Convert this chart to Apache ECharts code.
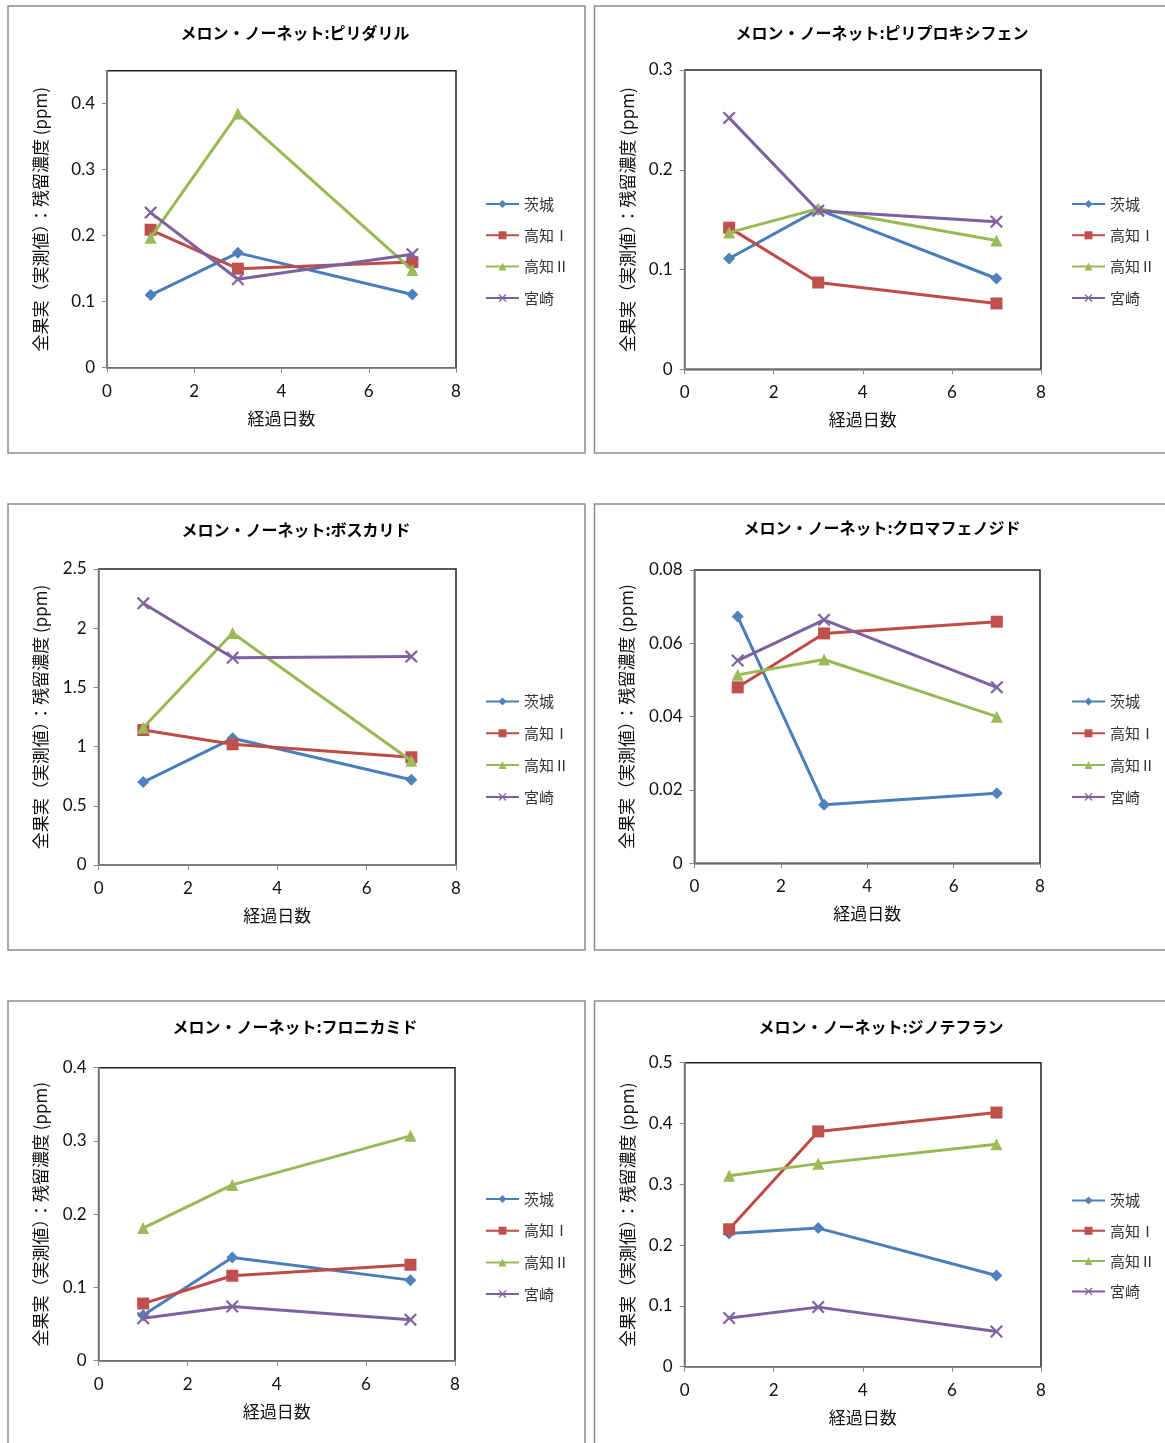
<!DOCTYPE html>
<html>
<head>
<meta charset="utf-8">
<script src="https://cdn.jsdelivr.net/npm/echarts@6/dist/echarts.min.js"></script>
<style>
html,body{margin:0;padding:0;background:#fff;}
#chart{width:1165px;height:1443px;}
</style>
</head>
<body>
<div id="chart"></div>
<script>
// ---- data ----
const days = [1, 3, 7];
const seriesNames = ['茨城', '高知Ⅰ', '高知Ⅱ', '宮崎'];
const panelTitles = [
  'メロン・ノーネット:ピリダリル',
  'メロン・ノーネット:ピリプロキシフェン',
  'メロン・ノーネット:ボスカリド',
  'メロン・ノーネット:クロマフェノジド',
  'メロン・ノーネット:フロニカミド',
  'メロン・ノーネット:ジノテフラン'
];
const xAxisName = '経過日数';
const yAxisName = '全果実（実測値）：残留濃度 (ppm)';
const xTicks = [0, 2, 4, 6, 8];

// ピリダリル
const pyridalylIbaraki = [0.110, 0.174, 0.111];
const pyridalylKochi1 = [0.209, 0.150, 0.160];
const pyridalylKochi2 = [0.197, 0.385, 0.148];
const pyridalylMiyazaki = [0.235, 0.134, 0.172];
const yTicks1 = [0, 0.1, 0.2, 0.3, 0.4];
const yMax1 = 0.45;

// ピリプロキシフェン
const pyriproxyfenIbaraki = [0.111, 0.160, 0.091];
const pyriproxyfenKochi1 = [0.142, 0.087, 0.066];
const pyriproxyfenKochi2 = [0.137, 0.161, 0.129];
const pyriproxyfenMiyazaki = [0.252, 0.159, 0.148];
const yTicks2 = [0, 0.1, 0.2, 0.3];
const yMax2 = 0.3;

// ボスカリド
const boscalidIbaraki = [0.70, 1.07, 0.72];
const boscalidKochi1 = [1.14, 1.02, 0.91];
const boscalidKochi2 = [1.16, 1.96, 0.88];
const boscalidMiyazaki = [2.21, 1.75, 1.76];
const yTicks3 = [0, 0.5, 1, 1.5, 2, 2.5];
const yMax3 = 2.5;

// クロマフェノジド
const chromafenozideIbaraki = [0.0673, 0.0160, 0.0191];
const chromafenozideKochi1 = [0.0480, 0.0627, 0.0659];
const chromafenozideKochi2 = [0.0514, 0.0556, 0.0400];
const chromafenozideMiyazaki = [0.0553, 0.0664, 0.0480];
const yTicks4 = [0, 0.02, 0.04, 0.06, 0.08];
const yMax4 = 0.08;

// フロニカミド
const flonicamidIbaraki = [0.062, 0.141, 0.110];
const flonicamidKochi1 = [0.078, 0.116, 0.131];
const flonicamidKochi2 = [0.181, 0.240, 0.307];
const flonicamidMiyazaki = [0.058, 0.074, 0.056];
const yTicks5 = [0, 0.1, 0.2, 0.3, 0.4];
const yMax5 = 0.4;

// ジノテフラン
const dinotefuranIbaraki = [0.219, 0.228, 0.150];
const dinotefuranKochi1 = [0.226, 0.387, 0.418];
const dinotefuranKochi2 = [0.314, 0.334, 0.366];
const dinotefuranMiyazaki = [0.080, 0.098, 0.058];
const yTicks6 = [0, 0.1, 0.2, 0.3, 0.4, 0.5];
const yMax6 = 0.5;

const panelValues = [
  [pyridalylIbaraki, pyridalylKochi1, pyridalylKochi2, pyridalylMiyazaki],
  [pyriproxyfenIbaraki, pyriproxyfenKochi1, pyriproxyfenKochi2, pyriproxyfenMiyazaki],
  [boscalidIbaraki, boscalidKochi1, boscalidKochi2, boscalidMiyazaki],
  [chromafenozideIbaraki, chromafenozideKochi1, chromafenozideKochi2, chromafenozideMiyazaki],
  [flonicamidIbaraki, flonicamidKochi1, flonicamidKochi2, flonicamidMiyazaki],
  [dinotefuranIbaraki, dinotefuranKochi1, dinotefuranKochi2, dinotefuranMiyazaki]
];
const panelYTicks = [yTicks1, yTicks2, yTicks3, yTicks4, yTicks5, yTicks6];
const panelYMax = [yMax1, yMax2, yMax3, yMax4, yMax5, yMax6];

// ---- layout / style ----
const grids = [
  {left: 107, top: 70.7, width: 349, height: 297},
  {left: 684.6, top: 70, width: 356.4, height: 299.3},
  {left: 98.6, top: 569, width: 357.4, height: 296},
  {left: 694.5, top: 570, width: 345.5, height: 293.3},
  {left: 98.6, top: 1067.7, width: 356.4, height: 293},
  {left: 684.6, top: 1062.7, width: 356.4, height: 304}
];
const yNameGaps = [58, 49, 50, 59, 50, 49];
const titlePos = [[295, 33], [882, 33], [296, 530], [882, 528], [295, 1027], [881, 1027]];
const legendPos = [[485, 196.5, 16.3], [1071, 196.5, 16.3], [485, 694, 16.8], [1071, 694, 16.8], [485, 1191.5, 16.7], [1071, 1193, 15.3]];
const panelBoxes = [[8, 6, 577, 447], [594.5, 6, 580, 447], [8, 504, 577, 446], [594.5, 504, 580, 446], [8, 1001, 577, 460], [594.5, 1001, 580, 460]];

const lineColors = ['#4A7EBB', '#BE4B48', '#98B954', '#7D60A0'];
const markerColors = ['#4F81BD', '#C0504D', '#9BBB59', '#8064A2'];
const xPath = 'path://M0,1.2L1.2,0L5,3.8L8.8,0L10,1.2L6.2,5L10,8.8L8.8,10L5,6.2L1.2,10L0,8.8L3.8,5Z';
const symbols = ['diamond', 'rect', 'triangle', xPath];
const symbolSizes = [12, 12, 12, 13];

const numFont = 'Lato, "Liberation Sans", sans-serif';
const jpFont = '"Noto Sans CJK JP", sans-serif';

const option = {
  animation: false,
  backgroundColor: '#fff',
  grid: [], xAxis: [], yAxis: [], series: [], legend: [], graphic: []
};

panelBoxes.forEach(b => {
  option.graphic.push({
    type: 'rect', silent: true, z: -10,
    shape: {x: b[0], y: b[1], width: b[2], height: b[3]},
    style: {fill: 'none', stroke: '#8c8c8c', lineWidth: 1.5}
  });
});

titlePos.forEach((p, i) => {
  option.graphic.push({
    type: 'text', silent: true, x: p[0], y: p[1],
    style: {text: panelTitles[i], align: 'center', verticalAlign: 'middle',
      font: 'bold 16px "Noto Sans CJK JP", sans-serif', fill: '#000'}
  });
});

for (let p = 0; p < 6; p++) {
  option.grid.push(Object.assign({show: true, borderColor: '#222', borderWidth: 1.5, backgroundColor: '#fff'}, grids[p]));
  option.xAxis.push({
    type: 'value', gridIndex: p, min: 0, max: 8, interval: 2,
    name: xAxisName, nameLocation: 'middle', nameGap: 42,
    nameTextStyle: {fontFamily: jpFont, fontSize: 17, color: '#111'},
    axisLine: {show: true, lineStyle: {color: '#888', width: 1.5}},
    axisTick: {show: true, inside: false, length: 5, lineStyle: {color: '#888', width: 1}, customValues: xTicks},
    axisLabel: {margin: 15, fontFamily: numFont, fontSize: 17, color: '#111', customValues: xTicks},
    splitLine: {show: false}
  });
  option.yAxis.push({
    type: 'value', gridIndex: p, min: 0, max: panelYMax[p],
    interval: panelYTicks[p][1],
    name: yAxisName, nameLocation: 'middle', nameGap: yNameGaps[p], nameRotate: 90,
    nameTextStyle: {fontFamily: jpFont, fontSize: 17, color: '#111'},
    axisLine: {show: true, lineStyle: {color: '#888', width: 1.5}},
    axisTick: {show: true, inside: false, length: 5, lineStyle: {color: '#888', width: 1}, customValues: panelYTicks[p]},
    axisLabel: {margin: 12, fontFamily: numFont, fontSize: 17, color: '#111', customValues: panelYTicks[p]},
    splitLine: {show: false}
  });
  option.legend.push({
    show: true, orient: 'vertical', left: legendPos[p][0], top: legendPos[p][1],
    padding: 0, itemGap: legendPos[p][2], itemWidth: 33, itemHeight: 10,
    textStyle: {fontFamily: jpFont, fontSize: 15, color: '#333'},
    selectedMode: false,
    data: seriesNames
  });
  for (let s = 0; s < 4; s++) {
    option.series.push({
      type: 'line', name: seriesNames[s], xAxisIndex: p, yAxisIndex: p,
      data: days.map((d, i) => [d, panelValues[p][s][i]]),
      symbol: symbols[s], symbolSize: symbolSizes[s], showSymbol: true,
      lineStyle: {color: lineColors[s], width: 3},
      itemStyle: {color: markerColors[s]},
      z: 2 + s
    });
  }
}

const chart = echarts.init(document.getElementById('chart'), null, {renderer: 'canvas'});
chart.setOption(option);
</script>
</body>
</html>
